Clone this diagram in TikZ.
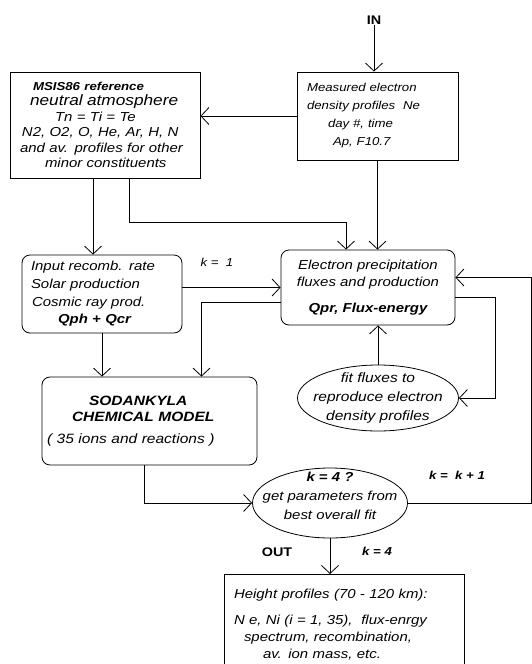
\documentclass[tikz,border=0pt]{standalone}
\usepackage{fontspec}
\newfontfamily\chartfont[FakeStretch=1.15]{Liberation Sans}
\usepackage{tikz}
\usetikzlibrary{arrows.meta,shapes.geometric,positioning}

\begin{document}
\begin{tikzpicture}[y=-1pt,x=1pt,
	box/.style={draw, line width=0.8pt, inner ysep=0pt},
	rbox/.style={box, rounded corners=8pt},
	oval/.style={draw, ellipse, line width=0.8pt, inner sep=0pt},
	flow/.style={line width=0.8pt, -{Straight Barb[length=8pt,width=17pt]}},
	tag/.style={font=\chartfont\bfseries\fs{12.5}{15}, inner sep=0pt},
	ktag/.style={font=\chartfont\itshape\fs{11.5}{14}, inner sep=0pt}]
	\newcommand\fs[2]{\fontsize{#1}{#2}\selectfont}

	\useasboundingbox (0,0) rectangle (532,664);

	\node[box, minimum width=161, minimum height=88, text width=141, inner xsep=10, align=left, font=\chartfont\itshape\fs{11.5}{18}] (meas) at (377.5,116) {Measured electron\\density profiles\ \ Ne\\\hspace*{21pt}day \#, time\\\hspace*{26pt}Ap, F10.7};
	\node[box, minimum width=190, minimum height=106, text width=170, inner xsep=10, align=left, font=\chartfont\itshape\fs{13}{15.5}] (msis) at (105,125) {\hspace*{13pt}{\bfseries\fs{11.5}{15.5}MSIS86 reference}\\\hspace*{10pt}{\fs{15}{17}neutral atmosphere}\\\hspace*{35pt}Tn = Ti = Te\\\hspace*{2pt}N2, O2, O, He, Ar, H, N\\and av. profiles for other\\\hspace*{25pt}minor constituents};
	\node[rbox, minimum width=160, minimum height=78, text width=142, inner xsep=9, align=left, font=\chartfont\itshape\fs{13}{17.7}] (input) at (102,294) {Input recomb. rate\\Solar production\\\hspace*{1pt}Cosmic ray prod.\\\hspace*{27pt}\textbf{Qph + Qcr}};
	\node[rbox, minimum width=174, minimum height=75, align=center, font=\chartfont\itshape\fs{13}{17}] (elec) at (368,287.5) {Electron precipitation\\fluxes and production\\[9pt]\textbf{Qpr, Flux-energy}};
	\node[rbox, minimum width=215, minimum height=88, text width=205, inner xsep=5, align=left, font=\chartfont\itshape\fs{13.5}{16}] (soda) at (149.5,421) {\hspace*{42pt}\textbf{SODANKYLA}\\\hspace*{25pt}\textbf{CHEMICAL MODEL}\\[6pt]( 35 ions and reactions )};
	\node[oval, minimum width=161, minimum height=66, label={[font=\chartfont\itshape\fs{13.5}{19}, align=center]center:{fit fluxes to\\reproduce electron\\density profiles}}] (fit) at (378,398) {};
	\node[oval, minimum width=155, minimum height=70, label={[yshift=7pt, font=\chartfont\itshape\fs{13}{19}, align=center]center:{\textbf{k = 4 ?}\\get parameters from\\best overall fit}}] (dec) at (330,503) {};
	\node[box, anchor=north, minimum width=240, minimum height=100, text width=220, inner xsep=10, align=left, font=\chartfont\itshape\fs{13}{17}] (out) at (344,574) {Height profiles (70 - 120 km):\\[9pt]N e, Ni (i = 1, 35),\ \ flux-enrgy\\\hspace*{10pt}spectrum, recombination,\\\hspace*{29pt}av. ion mass, etc.};

	\node[tag] (in) at (374,20) {IN};
	\node[tag] (outlbl) at (277,552) {OUT};
	\node[ktag] (k1) at (217,262) {k =\ \ 1};
	\node[ktag, font=\chartfont\itshape\bfseries\fs{11.5}{14}] (k4) at (377,551) {k = 4};
	\node[ktag, font=\chartfont\itshape\bfseries\fs{11.5}{14}] (kinc) at (457,475) {k =\ \ k + 1};
	\coordinate (bend) at (346,222);

	\draw[flow] (in.south) -- (in.south |- meas.north);
	\draw[flow] (meas.west) -- (meas.west -| msis.east);
	\draw[flow] ([xshift=-12pt]msis.south) -- ([xshift=-12pt]msis.south |- input.north);
	\draw[flow] ([xshift=24pt]msis.south) |- (bend) -- (bend |- elec.north);
	\draw[flow] (meas.south) -- (meas.south |- elec.north);
	\draw[flow] (elec.west -| input.east) -- (elec.west);
	\draw[flow] ([yshift=-15pt]elec.west) -| ([xshift=52pt]soda.north);
	\draw[flow] (input.south) -- (input.south |- soda.north);
	\draw[flow] (fit.north) -- (fit.north |- elec.south);
	\draw[flow] ([yshift=-10pt]elec.east) -- ++(40,0) |- (fit.east);
	\draw[flow] (dec.east) -- ++(123,0) |- ([yshift=10pt]elec.east);
	\draw[flow] ([xshift=-5pt]soda.south) |- (dec.west);
	\draw[flow] (dec.south) -- (dec.south |- out.north);
\end{tikzpicture}
\end{document}
